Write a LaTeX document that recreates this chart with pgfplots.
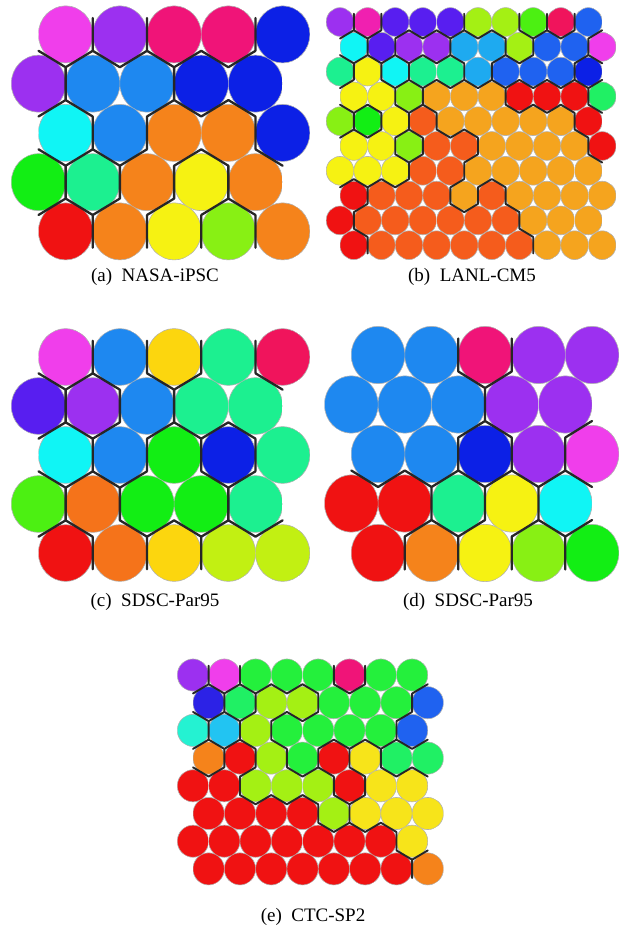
\documentclass[border=0pt]{standalone}
\usepackage{pgfplots}
\usepackage{pgfplotstable}
\pgfplotsset{compat=1.18}
\usepackage{fontspec}
\setmainfont{Liberation Serif}

% ---------- cluster colours ----------
\definecolor{cmag}{HTML}{F03EEB}
\definecolor{cmg2}{HTML}{F020B0}
\definecolor{cvio}{HTML}{9C30F0}
\definecolor{cpnk}{HTML}{F01478}
\definecolor{cros}{HTML}{F0145C}
\definecolor{cblu}{HTML}{0C20E6}
\definecolor{cazu}{HTML}{1E88F0}
\definecolor{cbl2}{HTML}{1F62F0}
\definecolor{csky}{HTML}{1EAAF0}
\definecolor{csk2}{HTML}{22C4F2}
\definecolor{ccya}{HTML}{10F5F5}
\definecolor{caqu}{HTML}{24F2D2}
\definecolor{cspr}{HTML}{1CF090}
\definecolor{cind}{HTML}{581EF0}
\definecolor{cin2}{HTML}{2C22E6}
\definecolor{cgre}{HTML}{12EE14}
\definecolor{cgr2}{HTML}{24F03C}
\definecolor{cgrt}{HTML}{20F064}
\definecolor{clgr}{HTML}{4CF012}
\definecolor{clim}{HTML}{88F014}
\definecolor{cli2}{HTML}{A4F014}
\definecolor{cli3}{HTML}{C2F012}
\definecolor{cyel}{HTML}{F6F212}
\definecolor{cye2}{HTML}{F7E41A}
\definecolor{cgol}{HTML}{FCD60E}
\definecolor{cora}{HTML}{F5831B}
\definecolor{cor2}{HTML}{F5731A}
\definecolor{clor}{HTML}{F5A41E}
\definecolor{cdor}{HTML}{F55C1C}
\definecolor{cred}{HTML}{F01212}

% ---------- map units (class of every node, row by row) ----------
\pgfplotstableread{
r k0 k1 k2 k3 k4
0 mag vio pnk pnk blu
1 vio azu azu blu blu
2 cya azu ora ora blu
3 gre spr ora yel ora
4 red ora yel lim ora
}\tabA

\pgfplotstableread{
r k0 k1 k2 k3 k4 k5 k6 k7 k8 k9
0 vio mg2 ind ind ind li2 li2 lgr ros bl2
1 cya ind vio vio sky sky li2 bl2 bl2 mag
2 spr yel cya spr spr sky bl2 bl2 bl2 blu
3 yel yel lim lor lor lor red red red grt
4 lim gre yel dor lor lor lor lor lor red
5 yel yel lim dor dor lor lor lor lor red
6 yel yel yel dor dor lor lor lor lor lor
7 red dor dor dor lor dor lor lor lor lor
8 red dor dor dor dor dor dor lor lor lor
9 red dor dor dor dor dor dor lor lor lor
}\tabB

\pgfplotstableread{
r k0 k1 k2 k3 k4
0 mag azu gol spr ros
1 ind vio azu spr spr
2 cya azu gre blu spr
3 lgr or2 gre gre spr
4 red or2 gol li3 li3
}\tabC

\pgfplotstableread{
r k0 k1 k2 k3 k4
0 azu azu pnk vio vio
1 azu azu azu vio vio
2 azu azu blu vio mag
3 red red spr yel cya
4 red ora yel lim gre
}\tabD

\pgfplotstableread{
r k0 k1 k2 k3 k4 k5 k6 k7
0 vio mag gr2 gr2 gr2 pnk gr2 gr2
1 in2 grt li2 li2 gr2 gr2 gr2 bl2
2 aqu sk2 li2 gr2 gr2 gr2 gr2 bl2
3 ora red li2 gr2 red ye2 grt grt
4 red red li2 li2 li2 red ye2 ye2
5 red red red red li2 ye2 ye2 ye2
6 red red red red red red red ye2
7 red red red red red red red ora
}\tabE

% ---------- a map node: circle clipped to its hexagon ----------
\newcommand\setcell[2]{% column spacing, row spacing (pt)
  \pgfmathsetlengthmacro\hexSide{#1/2}%
  \pgfmathsetlengthmacro\hexMid{#2/3}%
  \pgfmathsetlengthmacro\hexTop{2*#2/3}%
  \pgfmathsetlengthmacro\cellRx{1.004*#1/2}%
  \pgfmathsetlengthmacro\cellRy{1.004*#2/sqrt(3)}}
\pgfdeclareplotmark{hexcell}{%
  \pgfscope
  \pgfpathmoveto{\pgfpoint{0pt}{\hexTop}}%
  \pgfpathlineto{\pgfpoint{\hexSide}{\hexMid}}%
  \pgfpathlineto{\pgfpoint{\hexSide}{-\hexMid}}%
  \pgfpathlineto{\pgfpoint{0pt}{-\hexTop}}%
  \pgfpathlineto{\pgfpoint{-\hexSide}{-\hexMid}}%
  \pgfpathlineto{\pgfpoint{-\hexSide}{\hexMid}}%
  \pgfpathclose
  \pgfusepath{clip}%
  \pgfpathellipse{\pgfpointorigin}{\pgfpoint{\cellRx}{0pt}}{\pgfpoint{0pt}{\cellRy}}%
  \pgfusepath{fill,stroke}%
  \endpgfscope}

% ---------- cluster borders: hexagon edges between different classes ----------
\newcommand\getclass[3]{% table, row, col -> \pgfplotsretval
  \edef\tmpget{\noexpand\pgfplotstablegetelem{#2}{k#3}\noexpand\of\noexpand#1}\tmpget}
\newcommand\buildedges[4]{% table, last col, last row, parity of shifted rows
  \gdef\edgelist{}%
  \foreach \ri in {0,...,#3}{%
    \foreach \ci in {0,...,#2}{%
      \getclass{#1}{\ri}{\ci}\edef\me{\pgfplotsretval}%
      \pgfmathtruncatemacro\sh{mod(\ri+#4,2)}%
      \pgfmathsetmacro\X{\ci+0.5*\sh}%
      \pgfmathsetmacro\Y{-\ri}%
      \pgfmathsetmacro\Xr{\X+0.5}\pgfmathsetmacro\Xl{\X-0.5}%
      \pgfmathsetmacro\Ya{\Y+1/3}\pgfmathsetmacro\Yb{\Y-1/3}\pgfmathsetmacro\Yc{\Y-2/3}%
      \ifnum\ci<#2\relax
        \pgfmathtruncatemacro\cN{\ci+1}%
        \getclass{#1}{\ri}{\cN}\edef\nb{\pgfplotsretval}%
        \ifx\me\nb\else\xdef\edgelist{\edgelist(\Xr,\Ya)(\Xr,\Yb)(nan,nan)}\fi
      \fi
      \ifnum\ri<#3\relax
        \pgfmathtruncatemacro\rN{\ri+1}%
        \pgfmathtruncatemacro\cL{\ci+\sh-1}%
        \pgfmathtruncatemacro\cR{\ci+\sh}%
        \ifnum\cL>-1\relax
          \getclass{#1}{\rN}{\cL}\edef\nb{\pgfplotsretval}%
          \ifx\me\nb\else\xdef\edgelist{\edgelist(\Xl,\Yb)(\X,\Yc)(nan,nan)}\fi
        \fi
        \ifnum\cR<\numexpr#2+1\relax
          \getclass{#1}{\rN}{\cR}\edef\nb{\pgfplotsretval}%
          \ifx\me\nb\else\xdef\edgelist{\edgelist(\X,\Yc)(\Xr,\Yb)(nan,nan)}\fi
        \fi
      \fi
    }}}

\pgfplotsset{
  cellclasses/.style={scatter/classes={
    mag={fill=cmag}, mg2={fill=cmg2}, vio={fill=cvio}, pnk={fill=cpnk}, ros={fill=cros},
    blu={fill=cblu}, azu={fill=cazu}, bl2={fill=cbl2}, sky={fill=csky}, sk2={fill=csk2},
    cya={fill=ccya}, aqu={fill=caqu}, spr={fill=cspr}, ind={fill=cind}, in2={fill=cin2},
    gre={fill=cgre}, gr2={fill=cgr2}, grt={fill=cgrt}, lgr={fill=clgr}, lim={fill=clim},
    li2={fill=cli2}, li3={fill=cli3}, yel={fill=cyel}, ye2={fill=cye2}, gol={fill=cgol},
    ora={fill=cora}, or2={fill=cor2}, lor={fill=clor}, dor={fill=cdor}, red={fill=cred}}},
  cellplot/.style={only marks, mark=hexcell, scatter, point meta=explicit symbolic,
    cellclasses, mark options={draw=black!30, line width=0.6pt}},
  edgeline/.style={draw=black!85, line width=#1, unbounded coords=jump, no marks,
    line cap=round, line join=round},
  panel/.style={hide axis, clip=false, anchor=north west, xmin=-1, ymax=1},
  panelA/.style={panel, at={(-15.75pt,14.85pt)}, x=54.25pt, y=49.25pt, xmax=5, ymin=-5},
  panelB/.style={panel, at={(312.4pt,2.8pt)}, x=27.6pt, y=24.8pt, xmax=10, ymin=-10},
  panelC/.style={panel, at={(-15.75pt,-308pt)}, x=54.25pt, y=49pt, xmax=5, ymin=-5},
  panelD/.style={panel, at={(297.8pt,-305.5pt)}, x=53.5pt, y=49.5pt, xmax=5, ymin=-5},
  panelE/.style={panel, at={(161.7pt,-647.3pt)}, x=31.3pt, y=27.7pt, xmax=8, ymin=-8},
}

\newcommand\drawcells[3]{% table, last column, parity of shifted rows
  \pgfplotsinvokeforeach{0,...,#2}{%
    \addplot[cellplot] table[x expr={##1+0.5*(\thisrow{r}+#3-2*floor((\thisrow{r}+#3)/2))},
      y expr={-\thisrow{r}}, meta=k##1] {#1};
  }}
\newcommand\drawedges[1]{%
  \edef\tmpedge{\noexpand\addplot[edgeline=#1] coordinates {\edgelist};}\tmpedge}

\begin{document}
\begin{tikzpicture}[every node/.style={font=\fontsize{19}{23}\selectfont, inner sep=0pt}]
\useasboundingbox (0,0) rectangle (619pt,-931pt);

% (a) NASA-iPSC
\setcell{54.25}{49.25}
\buildedges{\tabA}{4}{4}{1}
\begin{axis}[panelA]
  \drawcells{\tabA}{4}{1}
\end{axis}
\begin{axis}[panelA]
  \drawedges{2.3pt}
\end{axis}
\node[anchor=base] at (155pt,-281pt) {(a)\ \ NASA-iPSC};

% (b) LANL-CM5
\setcell{27.6}{24.8}
\buildedges{\tabB}{9}{9}{0}
\begin{axis}[panelB]
  \drawcells{\tabB}{9}{0}
\end{axis}
\begin{axis}[panelB]
  \drawedges{1.9pt}
\end{axis}
\node[anchor=base] at (472pt,-281pt) {(b)\ \ LANL-CM5};

% (c) SDSC-Par95
\setcell{54.25}{49}
\buildedges{\tabC}{4}{4}{1}
\begin{axis}[panelC]
  \drawcells{\tabC}{4}{1}
\end{axis}
\begin{axis}[panelC]
  \drawedges{2.3pt}
\end{axis}
\node[anchor=base] at (155pt,-606pt) {(c)\ \ SDSC-Par95};

% (d) SDSC-Par95
\setcell{53.5}{49.5}
\buildedges{\tabD}{4}{4}{1}
\begin{axis}[panelD]
  \drawcells{\tabD}{4}{1}
\end{axis}
\begin{axis}[panelD]
  \drawedges{2.3pt}
\end{axis}
\node[anchor=base] at (468pt,-606pt) {(d)\ \ SDSC-Par95};

% (e) CTC-SP2
\setcell{31.3}{27.7}
\buildedges{\tabE}{7}{7}{0}
\begin{axis}[panelE]
  \drawcells{\tabE}{7}{0}
\end{axis}
\begin{axis}[panelE]
  \drawedges{1.9pt}
\end{axis}
\node[anchor=base] at (313pt,-921pt) {(e)\ \ CTC-SP2};
\end{tikzpicture}
\end{document}
